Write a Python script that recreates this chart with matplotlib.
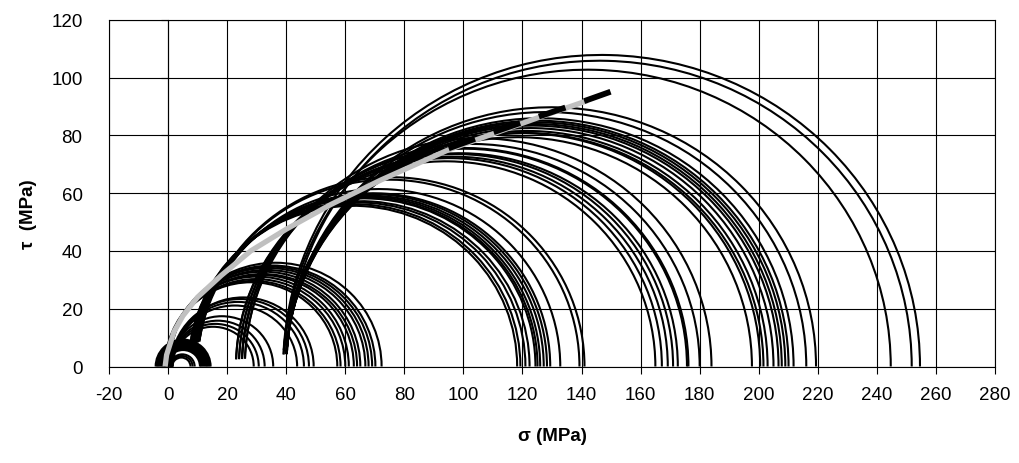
import numpy as np
import matplotlib
matplotlib.use("Agg")
import matplotlib.pyplot as plt
from matplotlib.patches import Arc

plt.rcParams['font.family'] = ['Liberation Sans', 'DejaVu Sans']
plt.rcParams['axes.unicode_minus'] = False

# Mohr circles, (sigma3, sigma1) in MPa, grouped by test series
ring_s3 = [-4.2, -3.8, -3.4, -3.0, -2.6, -2.2, -1.8, -1.4, -1.0, -0.6, 0.6, 1.0, 1.4]
ring_s1 = [14.4, 14.0, 13.6, 13.2, 12.8, 12.4, 12.0, 11.6, 11.2, 10.8, 9.0, 8.3, 7.6]

low_s3 = [1.5, 1.2, 1.0, 0.8, 1.5, 1.3, 1.0, 1.5]
low_s1 = [29.0, 30.7, 32.7, 35.6, 43.7, 46.0, 47.7, 49.3]

ucs_s3 = [-1.0, -0.8, -0.5, -1.0, -0.5, 0.0, -0.5, 0.0, -0.3, 0.0, 0.3, 0.5]
ucs_s1 = [57.3, 58.4, 60.0, 61.2, 62.9, 64.0, 65.1, 66.8, 67.9, 69.1, 70.2, 72.3]

c10_s3 = [7.0, 7.0, 7.5, 8.0, 8.0, 8.5, 8.5, 9.0, 9.0, 9.5, 10.0, 10.0, 10.0]
c10_s1 = [118.2, 119.3, 121.0, 122.4, 124.4, 125.1, 126.0, 127.2, 128.3, 129.4, 132.8, 139.3, 141.0]

c25_s3 = [23.0, 23.0, 24.0, 24.0, 25.0, 25.0, 25.0, 26.0, 26.0]
c25_s1 = [165.0, 167.2, 169.2, 171.0, 172.6, 175.7, 176.2, 180.0, 184.0]

c40_s3 = [39.0, 39.0, 40.0, 40.0, 40.0, 40.0, 40.0, 40.0, 40.0, 40.0, 40.0, 40.0]
c40_s1 = [197.7, 200.5, 201.6, 203.0, 205.0, 206.7, 207.8, 209.0, 210.1, 211.8, 216.1, 219.4]

big_s3 = [39.3, 40.2, 39.0]
big_s1 = [244.7, 251.8, 254.6]

# failure envelope (grey) and fitted criterion (black dashed)
env_sig = [-1.0, -0.5, 2.0, 5.0, 10.0, 18.0, 28.0, 40.0, 55.0, 72.0, 95.0, 110.0, 125.0, 142.0]
env_tau = [0.0, 4.0, 12.0, 17.5, 24.0, 31.5, 40.0, 47.5, 56.0, 64.5, 75.0, 80.5, 86.0, 92.0]

fit_sig = [95.0, 110.0, 125.0, 140.0, 151.0]
fit_tau = [75.5, 81.0, 86.3, 91.5, 95.5]

x_ticks = list(range(-20, 281, 20))
y_ticks = list(range(0, 121, 20))

groups = [
    (ring_s3, ring_s1, 180),
    (low_s3, low_s1, 180),
    (ucs_s3, ucs_s1, 180),
    (c10_s3, c10_s1, 172),   # left ends of the larger circles stop short of the axis
    (c25_s3, c25_s1, 178),
    (c40_s3, c40_s1, 177),
    (big_s3, big_s1, 177),
]

fig = plt.figure(figsize=(10.2, 4.64), dpi=100)
ax = fig.add_axes([109 / 1020, 1 - 367.5 / 464, 886 / 1020, 346.8 / 464])

for s3s, s1s, end in groups:
    for s3, s1 in zip(s3s, s1s):
        c = (s1 + s3) / 2
        d = s1 - s3
        ax.add_patch(Arc((c, 0), d, d, theta1=0, theta2=end,
                         color='black', lw=1.5, zorder=3))

ax.plot(env_sig, env_tau, color='#c0c0c0', lw=3.8, solid_capstyle='butt', zorder=4)
ax.plot(fit_sig, fit_tau, color='black', lw=4.2, dashes=(4.8, 3.4),
        dash_capstyle='butt', zorder=5)

ax.set_xlim(x_ticks[0], x_ticks[-1])
ax.set_ylim(y_ticks[0], y_ticks[-1])
ax.set_xticks(x_ticks)
ax.set_yticks(y_ticks)
ax.grid(True, color='black', lw=0.8)
ax.set_axisbelow(True)
for sp in ax.spines.values():
    sp.set_linewidth(0.8)
    sp.set_color('black')

ax.tick_params(axis='x', direction='out', length=5, width=0.8, pad=9, labelsize=13.5)
ax.tick_params(axis='y', length=0, pad=19, labelsize=13.5)

# vertical axis crosses at sigma = 0 (ticks there, labels at the left)
loc = (0 - x_ticks[0]) / (x_ticks[-1] - x_ticks[0])
sec = ax.secondary_yaxis(loc)
sec.set_yticks(y_ticks)
sec.tick_params(direction='out', length=5, width=0.8, labelleft=False)
sec.spines['left'].set_linewidth(0.8)

ax.set_xlabel('σ (MPa)', fontsize=13.5, fontweight='bold')
ax.set_ylabel('τ  (MPa)', fontsize=13.5, fontweight='bold')
ax.xaxis.set_label_coords(0.5, -0.2)
ax.xaxis.label.set_va('center')
ax.yaxis.set_label_coords(-0.0914, 0.443)
ax.yaxis.label.set_va('center')

fig.savefig('out.png', dpi=100)
